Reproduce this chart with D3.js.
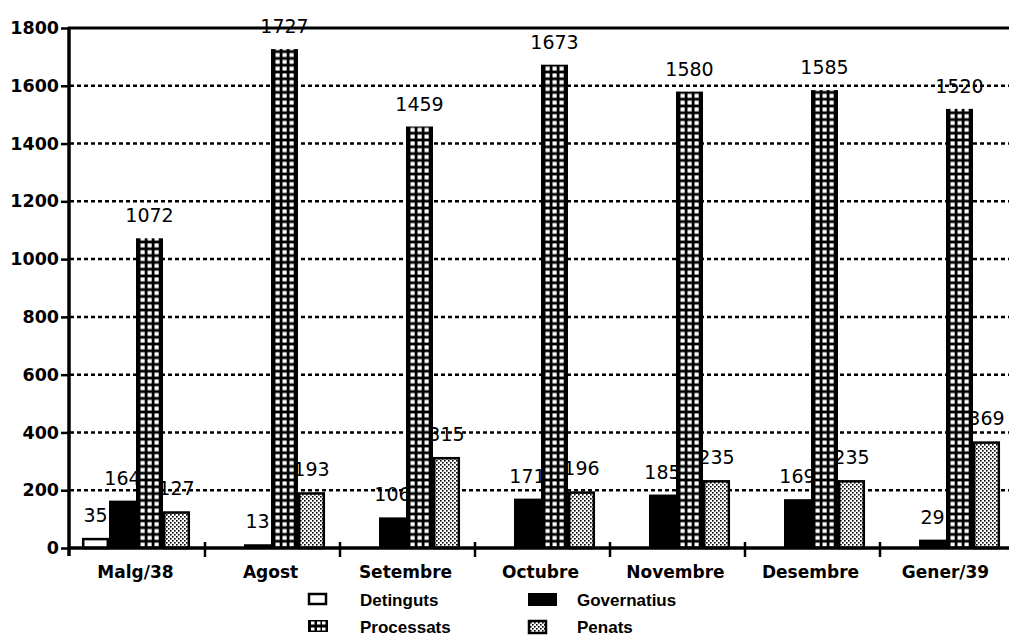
<!DOCTYPE html>
<html>
<head>
<meta charset="utf-8">
<script src="https://d3js.org/d3.v7.min.js"></script>
<style>
  body { margin: 0; background: #fff; }
  svg { display: block; }
  .tick-label { font-family: "DejaVu Sans", sans-serif; font-weight: bold; font-size: 17.5px; fill: #000; }
  .cat-label { font-family: "DejaVu Sans", sans-serif; font-weight: bold; font-size: 17px; fill: #000; }
  .value { font-family: "DejaVu Sans", sans-serif; font-size: 19px; fill: #000; }
  .legend-label { font-family: "Liberation Sans", Arial, sans-serif; font-weight: bold; font-size: 17px; fill: #000; }
</style>
</head>
<body>
<svg id="chart" width="1009" height="641"></svg>
<script>
// months and series
var categories = ["Malg/38", "Agost", "Setembre", "Octubre", "Novembre", "Desembre", "Gener/39"];
var seriesNames = ["Detinguts", "Governatius", "Processats", "Penats"];
var detinguts   = [35, null, null, null, null, null, null];
var governatius = [164, 13, 106, 171, 185, 169, 29];
var processats  = [1072, 1727, 1459, 1673, 1580, 1585, 1520];
var penats      = [127, 193, 315, 196, 235, 235, 369];
var yTicks = [0, 200, 400, 600, 800, 1000, 1200, 1400, 1600, 1800];

var svg = d3.select("#chart"),
    width = +svg.attr("width"),
    height = +svg.attr("height");

var margin = {top: 28, left: 70, bottom: 93};

var x0 = d3.scaleBand()
  .domain(categories)
  .range([margin.left, margin.left + 135 * categories.length]);

var x1 = d3.scaleBand()
  .domain(seriesNames)
  .range([12, 120]);

var y = d3.scaleLinear()
  .domain([0, 1800])
  .range([height - margin.bottom, margin.top]);

var series = [
  {name: "Detinguts", values: detinguts},
  {name: "Governatius", values: governatius},
  {name: "Processats", values: processats},
  {name: "Penats", values: penats}
];

var defs = svg.append("defs");

// grid pattern for Processats, aligned to the bars (135 = 5 * 27)
var bw = x1.bandwidth();
var procPat = defs.append("pattern")
  .attr("id", "proc")
  .attr("patternUnits", "userSpaceOnUse")
  .attr("x", x0(categories[0]) + x1("Processats"))
  .attr("y", y(0))
  .attr("width", bw)
  .attr("height", 6.8);
procPat.append("rect").attr("width", bw).attr("height", 6.8).attr("fill", "#000");
[4.5, 11.5, 18.5].forEach(function(cx) {
  procPat.append("rect").attr("x", cx).attr("y", 1.4).attr("width", 4.2).attr("height", 4).attr("fill", "#fff");
});

// stipple for Penats
var penPat = defs.append("pattern")
  .attr("id", "pen")
  .attr("patternUnits", "userSpaceOnUse")
  .attr("width", 4)
  .attr("height", 4);
penPat.append("rect").attr("width", 4).attr("height", 4).attr("fill", "#fff");
penPat.append("rect").attr("x", 0).attr("y", 0).attr("width", 1.6).attr("height", 1.6).attr("fill", "#000");
penPat.append("rect").attr("x", 2).attr("y", 2).attr("width", 1.6).attr("height", 1.6).attr("fill", "#000");

// small grid for the legend box
var legPat = defs.append("pattern")
  .attr("id", "procleg")
  .attr("patternUnits", "userSpaceOnUse")
  .attr("x", 308).attr("y", 620)
  .attr("width", 20).attr("height", 6);
legPat.append("rect").attr("width", 20).attr("height", 6).attr("fill", "#000");
[3, 9, 14].forEach(function(cx) {
  legPat.append("rect").attr("x", cx).attr("y", 1.5).attr("width", 3.5).attr("height", 3).attr("fill", "#fff");
});

function fillFor(name) {
  if (name == "Governatius") return "#000";
  if (name == "Processats") return "url(#proc)";
  if (name == "Penats") return "url(#pen)";
  return "#fff";
}

/* Grid */

// dotted gridlines
svg.selectAll(".grid")
  .data(yTicks.filter(function(d) { return d > 0 && d < 1800; }))
  .enter().append("line")
    .attr("class", "grid")
    .attr("x1", margin.left)
    .attr("x2", width)
    .attr("y1", function(d) { return y(d); })
    .attr("y2", function(d) { return y(d); })
    .attr("stroke", "#000")
    .attr("stroke-width", 2.5)
    .attr("stroke-dasharray", "4,3");

// solid top line
svg.append("line")
  .attr("x1", margin.left - 2).attr("x2", width)
  .attr("y1", y(1800)).attr("y2", y(1800))
  .attr("stroke", "#000").attr("stroke-width", 3);

/* Value labels (drawn under the bars, like the original) */

series.forEach(function(s) {
  svg.selectAll(".value-" + s.name)
    .data(s.values.map(function(v, i) { return {cat: categories[i], v: v}; }).filter(function(d) { return d.v != null; }))
    .enter().append("text")
      .attr("class", "value")
      .attr("text-anchor", "middle")
      .attr("x", function(d) { return x0(d.cat) + x1(s.name) + bw / 2; })
      .attr("y", function(d) { return y(d.v) - 16; })
      .text(function(d) { return d.v; });
});

/* Bars */

series.forEach(function(s) {
  var outlined = (s.name == "Detinguts" || s.name == "Penats");
  svg.selectAll(".bar-" + s.name)
    .data(s.values.map(function(v, i) { return {cat: categories[i], v: v}; }).filter(function(d) { return d.v != null; }))
    .enter().append("rect")
      .attr("x", function(d) { return x0(d.cat) + x1(s.name) + (outlined ? 1.2 : 0); })
      .attr("y", function(d) { return y(d.v) + (outlined ? 1.2 : 0); })
      .attr("width", bw - (outlined ? 2.4 : 0))
      .attr("height", function(d) { return Math.max(0, y(0) - y(d.v) - (outlined ? 1.2 : 0)); })
      .attr("fill", fillFor(s.name))
      .attr("stroke", outlined ? "#000" : "none")
      .attr("stroke-width", 2.5);
});

/* Axes */

// y axis
var yAxis = svg.append("g")
  .attr("transform", "translate(" + (margin.left - 1) + ",0)")
  .call(d3.axisLeft(y).tickValues(yTicks).tickFormat(d3.format("d")).tickSize(8).tickPadding(2));
yAxis.select(".domain").remove();
yAxis.selectAll(".tick line").attr("stroke", "#000").attr("stroke-width", 2.5);
yAxis.selectAll(".tick text").attr("class", "tick-label").attr("font-family", null).attr("font-size", null).attr("fill", null);
svg.append("line")
  .attr("x1", margin.left - 1).attr("x2", margin.left - 1)
  .attr("y1", y(1800) - 1).attr("y2", y(0) + 8)
  .attr("stroke", "#000").attr("stroke-width", 3.5);

// x axis
svg.append("line")
  .attr("x1", margin.left - 1).attr("x2", width)
  .attr("y1", y(0)).attr("y2", y(0))
  .attr("stroke", "#000").attr("stroke-width", 3.5);

svg.selectAll(".xtick")
  .data(categories.slice(1))
  .enter().append("line")
    .attr("x1", function(d) { return x0(d); })
    .attr("x2", function(d) { return x0(d); })
    .attr("y1", y(0) - 6)
    .attr("y2", y(0) + 9)
    .attr("stroke", "#000")
    .attr("stroke-width", 2.5);

svg.selectAll(".cat-label")
  .data(categories)
  .enter().append("text")
    .attr("class", "cat-label")
    .attr("text-anchor", "middle")
    .attr("x", function(d) { return x0(d) + x0.bandwidth() / 2 - 2; })
    .attr("y", y(0) + 30)
    .text(function(d) { return d; });

/* Legend */

var legend = [
  {name: "Detinguts",   bx: 308, by: 593, w: 19, h: 12, tx: 360, ty: 606},
  {name: "Governatius", bx: 528, by: 593, w: 29, h: 13, tx: 577, ty: 606},
  {name: "Processats",  bx: 308, by: 620, w: 20, h: 12, tx: 360, ty: 633},
  {name: "Penats",      bx: 528, by: 620, w: 19, h: 14, tx: 577, ty: 633}
];

legend.forEach(function(l) {
  var outlined = (l.name == "Detinguts" || l.name == "Penats");
  svg.append("rect")
    .attr("x", l.bx + (outlined ? 1 : 0))
    .attr("y", l.by + (outlined ? 1 : 0))
    .attr("width", l.w - (outlined ? 2 : 0))
    .attr("height", l.h - (outlined ? 2 : 0))
    .attr("fill", l.name == "Processats" ? "url(#procleg)" : fillFor(l.name))
    .attr("stroke", outlined ? "#000" : "none")
    .attr("stroke-width", 2.5);
  svg.append("text")
    .attr("class", "legend-label")
    .attr("x", l.tx)
    .attr("y", l.ty)
    .text(l.name);
});
</script>
</body>
</html>
